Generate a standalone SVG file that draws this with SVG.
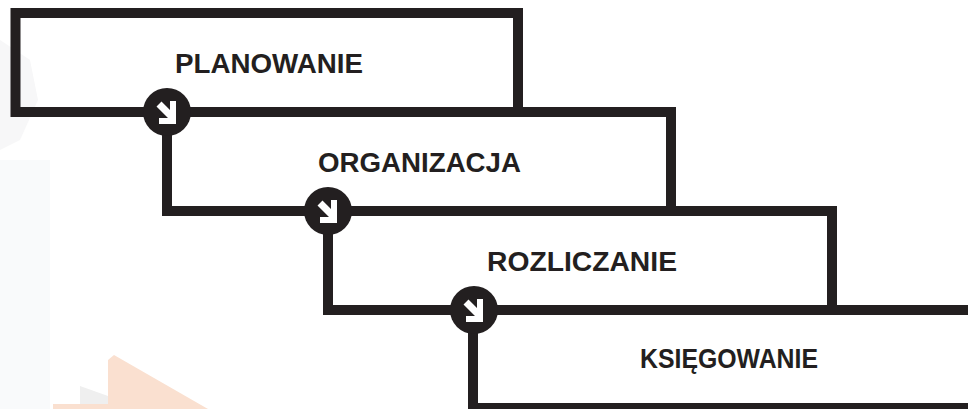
<svg xmlns="http://www.w3.org/2000/svg" width="968" height="409" viewBox="0 0 968 409">
  <style>
    .ln { fill: none; stroke: #231f20; stroke-width: 10; stroke-linejoin: miter; stroke-linecap: butt; }
    .lbl { font-family: "Liberation Sans", Arial, sans-serif; font-weight: bold; font-size: 27px; fill: #231f20; }
    .dot { fill: #231f20; }
    .arr { fill: #ffffff; }
  </style>
  <defs>
    <g id="step-arrow">
      <circle class="dot" cx="0" cy="0" r="24"/>
      <polygon class="arr" points="9,-11 9,12 -8,12 -8,6 1,6 -10.5,-5.5 -5.5,-10.5 3,-2 3,-11"/>
    </g>
  </defs>
  <rect width="968" height="409" fill="#ffffff"/>
  <g id="background">
    <rect x="0" y="160" width="50" height="249" fill="#f9fafb"/>
    <polygon points="0,40 30,60 38,100 20,140 0,150" fill="#f7f7f8"/>
    <polygon points="80,386 108,396 108,409 80,409" fill="#efefef"/>
    <polygon points="108,360 114,355 208,409 53,409 53,404 108,404" fill="#fae0d0"/>
  </g>
  <g id="node-planowanie">
    <path class="ln" d="M518 112 V13 H15.5 V112 H671"/>
    <text class="lbl" x="175" y="73" textLength="188" lengthAdjust="spacingAndGlyphs">PLANOWANIE</text>
  </g>
  <g id="node-organizacja">
    <path class="ln" d="M167 112 V211 H832"/>
    <path class="ln" d="M666 112 H671 V211"/>
    <text class="lbl" x="318" y="172" textLength="203" lengthAdjust="spacingAndGlyphs">ORGANIZACJA</text>
  </g>
  <g id="node-rozliczanie">
    <path class="ln" d="M328 211 V310 H975"/>
    <path class="ln" d="M827 211 H832 V310"/>
    <text class="lbl" x="487" y="271" textLength="190" lengthAdjust="spacingAndGlyphs">ROZLICZANIE</text>
  </g>
  <g id="node-ksiegowanie">
    <path class="ln" d="M473 310 V408 H975"/>
    <text class="lbl" x="640" y="368" textLength="178" lengthAdjust="spacingAndGlyphs">KSIĘGOWANIE</text>
  </g>
  <g id="connectors">
    <use href="#step-arrow" x="167" y="112"/>
    <use href="#step-arrow" x="328" y="211"/>
    <use href="#step-arrow" x="474" y="310"/>
  </g>
</svg>
